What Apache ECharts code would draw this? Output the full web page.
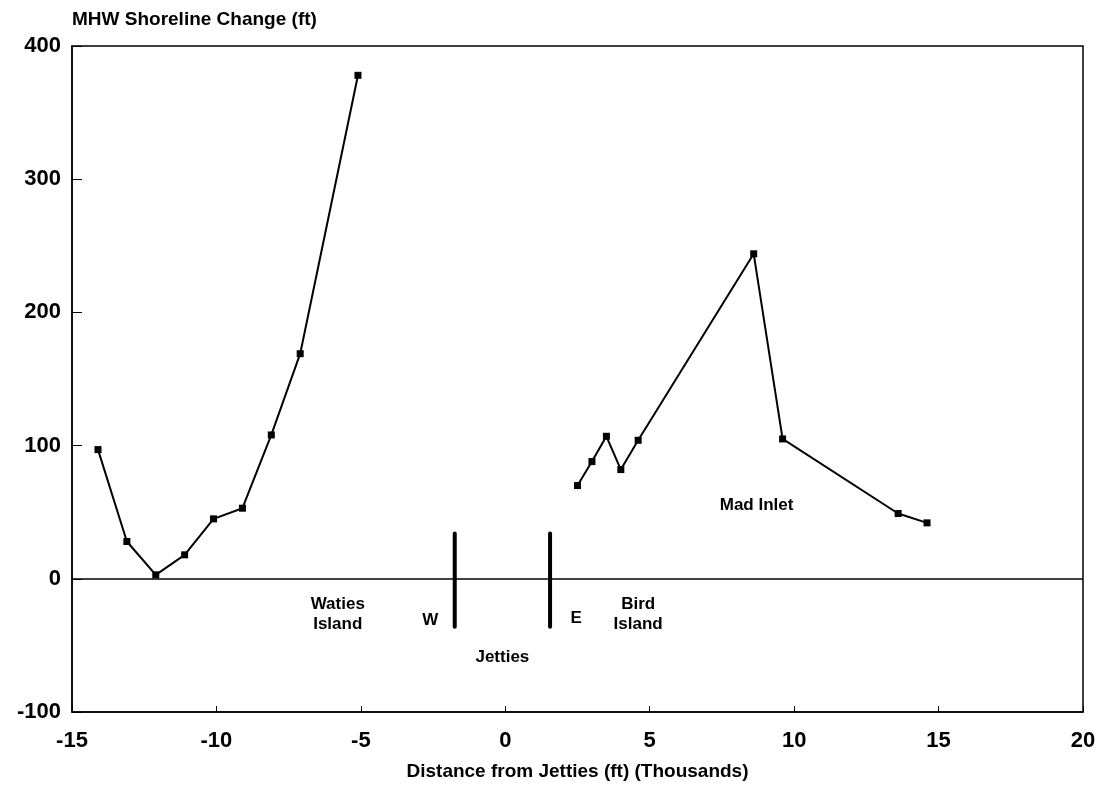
<!DOCTYPE html>
<html>
<head>
<meta charset="utf-8">
<script src="https://cdn.jsdelivr.net/npm/echarts@6/dist/echarts.min.js"></script>
<style>
  html, body { margin: 0; padding: 0; background: #fff; }
  #chart { width: 1105px; height: 786px; }
</style>
</head>
<body>
<div id="chart"></div>
<script>
// Waties Island side (west of jetties), thousands of ft
const westX = [-14.1, -13.1, -12.1, -11.1, -10.1, -9.1, -8.1, -7.1, -5.1];
const westY = [97, 28, 3, 18, 45, 53, 108, 169, 378];
// Bird Island side (east of jetties)
const eastX = [2.5, 3.0, 3.5, 4.0, 4.6, 8.6, 9.6, 13.6, 14.6];
const eastY = [70, 88, 107, 82, 104, 244, 105, 49, 42];
// jetty positions and their drawn extent
const jettyX = [-1.75, 1.55];
const jettyY = [34, -36];
// text notes placed in data coordinates
const noteText = ['Waties\nIsland', 'W', 'E', 'Bird\nIsland', 'Jetties', 'Mad Inlet'];
const noteX = [-5.8, -2.6, 2.45, 4.6, -0.1, 8.7];
const noteY = [-27, -31, -30, -27, -59, 55];

const font = '"Liberation Sans", Arial, Helvetica, sans-serif';

const pairs = (xs, ys) => xs.map((x, i) => [x, ys[i]]);

const lineStyle = { color: '#000', width: 2 };

const series = [
  {
    type: 'line',
    data: pairs(westX, westY),
    symbol: 'rect',
    symbolSize: 7,
    itemStyle: { color: '#000' },
    lineStyle: lineStyle,
    markLine: {
      silent: true,
      symbol: 'none',
      label: { show: false },
      lineStyle: { color: '#000', width: 1.5, type: 'solid' },
      data: [{ yAxis: 0 }]
    }
  },
  {
    type: 'line',
    data: pairs(eastX, eastY),
    symbol: 'rect',
    symbolSize: 7,
    itemStyle: { color: '#000' },
    lineStyle: lineStyle
  }
];

// the two jetties
jettyX.forEach(x => {
  series.push({
    type: 'line',
    data: jettyY.map(y => [x, y]),
    symbol: 'none',
    lineStyle: { color: '#000', width: 4, cap: 'round' }
  });
});

// labels
series.push({
  type: 'scatter',
  symbolSize: 0,
  silent: true,
  itemStyle: { color: '#000' },
  data: noteText.map((t, i) => ({ value: [noteX[i], noteY[i]], name: t })),
  label: {
    show: true,
    position: [0, 0],
    formatter: p => p.name,
    color: '#000',
    opacity: 1,
    textBorderWidth: 0,
    fontFamily: font,
    fontWeight: 'bold',
    fontSize: 17,
    lineHeight: 20,
    align: 'center',
    verticalAlign: 'middle'
  }
});

const chart = echarts.init(document.getElementById('chart'));
chart.setOption({
  animation: false,
  title: {
    text: 'MHW Shoreline Change (ft)',
    left: 72,
    top: 10,
    padding: 0,
    textStyle: { color: '#000', fontFamily: font, fontWeight: 'bold', fontSize: 19 }
  },
  grid: {
    left: 72, right: 22, top: 46, bottom: 72,
    show: true, borderColor: '#000', borderWidth: 1.5
  },
  xAxis: {
    type: 'value',
    min: -15, max: 20, interval: 5,
    name: 'Distance from Jetties (ft) (Thousands)',
    nameLocation: 'middle',
    nameGap: 50,
    nameTextStyle: { color: '#000', fontFamily: font, fontWeight: 'bold', fontSize: 19 },
    axisLine: { onZero: false, lineStyle: { color: '#000', width: 1.5 } },
    axisTick: { inside: true, length: 6, lineStyle: { color: '#000' } },
    axisLabel: { color: '#000', fontFamily: font, fontWeight: 'bold', fontSize: 22, margin: 18 },
    splitLine: { show: false }
  },
  yAxis: {
    type: 'value',
    min: -100, max: 400, interval: 100,
    axisLine: { show: true, onZero: false, lineStyle: { color: '#000', width: 1.5 } },
    axisTick: { show: true, inside: true, length: 10, lineStyle: { color: '#000' } },
    axisLabel: { color: '#000', fontFamily: font, fontWeight: 'bold', fontSize: 22, margin: 11 },
    splitLine: { show: false }
  },
  series: series
});
</script>
</body>
</html>
